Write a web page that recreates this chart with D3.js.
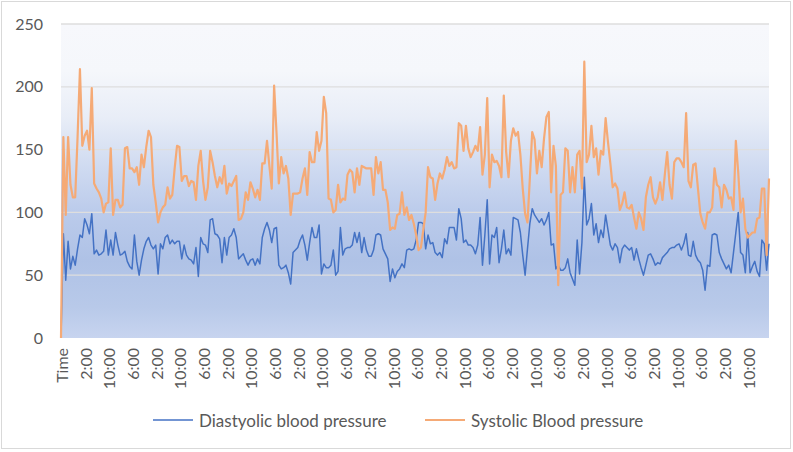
<!DOCTYPE html>
<html>
<head>
<meta charset="utf-8">
<script src="https://cdn.jsdelivr.net/npm/d3@7"></script>
<style>
  body { margin: 0; background: #fff; }
  text { font-family: Lato, "Open Sans", sans-serif; fill: #595959; }
</style>
</head>
<body>
<svg id="chart" width="793" height="452"></svg>
<script>
// Blood pressure readings, first category is the "Time" header row (plotted as 0)
const diastolic = [
  0, 83, 46, 77, 55, 65, 58, 71, 82, 80, 95, 90, 83, 99, 67, 70, 66, 67, 69, 86,
  66, 78, 66, 84, 74, 66, 67, 69, 61, 57, 55, 82, 61, 50, 62, 71, 77, 80, 74, 71,
  74, 51, 75, 71, 80, 82, 75, 78, 75, 77, 77,
  63, 74, 66, 63, 62, 59, 72, 49, 80, 75, 74, 68, 94, 95, 83, 82, 79, 60, 80, 66,
  80, 82, 87, 80, 63, 65, 67, 62, 58, 62, 63, 58, 63, 59, 80, 87, 92, 86, 76, 87,
  88, 58, 55, 56, 58, 52, 43, 68, 70, 72,
  78, 82, 74, 62, 76, 88, 80, 80, 90, 51, 59, 56, 56, 58, 70, 50, 53, 88, 66, 71,
  72, 72, 74, 84, 76, 84, 68, 80, 70, 65, 65, 70, 82, 83, 82, 71, 67, 63, 45, 55,
  48, 53, 55, 59, 56, 70, 71, 70, 71, 78,
  92, 92, 91, 71, 82, 75, 76, 68, 66, 68, 64, 79, 75, 88, 88, 88, 78, 103, 95, 76,
  78, 74, 74, 72, 67, 74, 96, 58, 82, 110, 59, 82, 80, 88, 60, 71, 86, 67, 71, 66,
  96, 95, 94, 84, 66, 50, 71, 91, 103, 98,
  95, 92, 95, 90, 94, 100, 74, 75, 55, 58, 54, 54, 56, 63, 52, 47, 42, 78, 51, 76,
  128, 90, 95, 107, 82, 91, 76, 86, 80, 98, 86, 74, 70, 75, 72, 60, 71, 74, 72, 70,
  72, 62, 71, 63, 56, 50, 58, 66, 67, 63,
  58, 60, 59, 64, 66, 68, 71, 72, 72, 74, 75, 70, 75, 83, 66, 65, 77, 66, 62, 60,
  54, 38, 58, 57, 82, 83, 82, 68, 63, 59, 55, 58, 52, 68, 84, 100, 68, 66, 52, 84,
  52, 57, 61, 53, 49, 78, 75, 54, 75
];

const systolic = [
  0, 160, 98, 160, 122, 112, 112, 160, 214, 153, 161, 165, 150, 199, 123, 119, 116, 111, 100, 107,
  108, 151, 98, 110, 110, 104, 106, 151, 152, 135, 135, 132, 136, 122, 146, 136, 152, 165, 160, 122,
  108, 92, 100, 104, 106, 120, 111, 114, 135, 153, 152,
  125, 129, 129, 121, 125, 124, 110, 137, 149, 125, 110, 120, 149, 140, 129, 120, 128, 123, 137, 115,
  123, 121, 125, 129, 94, 95, 100, 116, 110, 124, 119, 112, 118, 110, 139, 139, 157, 137, 119, 201,
  164, 123, 144, 131, 137, 127, 98, 115, 115, 115,
  116, 127, 135, 114, 148, 140, 140, 164, 149, 157, 192, 179, 111, 110, 100, 102, 122, 108, 111, 110,
  130, 134, 132, 116, 135, 122, 137, 136, 135, 135, 135, 114, 144, 131, 140, 118, 118, 108, 86, 88,
  87, 98, 99, 116, 98, 104, 94, 98, 91, 82,
  70, 72, 86, 100, 136, 128, 127, 110, 123, 131, 127, 134, 144, 137, 140, 135, 136, 171, 169, 149,
  169, 151, 144, 148, 153, 149, 168, 130, 146, 191, 120, 146, 140, 141, 137, 128, 193, 148, 128, 157,
  167, 161, 164, 146, 119, 99, 92, 127, 164, 158,
  131, 149, 136, 159, 176, 180, 116, 153, 137, 42, 114, 116, 151, 149, 116, 136, 116, 146, 149, 119,
  220, 140, 146, 169, 144, 151, 130, 149, 146, 175, 156, 139, 120, 123, 119, 102, 107, 116, 104, 103,
  106, 96, 87, 100, 95, 86, 112, 122, 128, 112,
  107, 112, 124, 110, 130, 148, 122, 111, 140, 143, 143, 140, 136, 179, 125, 120, 138, 139, 119, 99,
  92, 87, 100, 100, 104, 135, 122, 120, 104, 122, 118, 111, 112, 102, 157, 132, 100, 111, 87, 80,
  82, 84, 84, 95, 96, 119, 119, 66, 127
];

// one label every 10 readings
const tickLabels = [
  "Time", "2:00", "10:00", "6:00", "2:00", "10:00", "6:00", "2:00", "10:00", "6:00",
  "2:00", "10:00", "6:00", "2:00", "10:00", "6:00", "2:00", "10:00", "6:00", "2:00",
  "10:00", "6:00", "2:00", "10:00", "6:00", "2:00", "10:00", "6:00", "2:00", "10:00"
];
const labelStep = 10;
const yTicks = [0, 50, 100, 150, 200, 250];

const seriesNames = ["Diastyolic blood pressure", "Systolic Blood pressure"];
const seriesColors = ["#4472c4", "#f5aa76"];

const svg = d3.select("#chart");
const plot = { left: 61, right: 769, top: 24, bottom: 338 };

// Outer chart border
svg.append("rect")
  .attr("x", 1.5).attr("y", 1.5)
  .attr("width", 789).attr("height", 447)
  .attr("fill", "#fff")
  .attr("stroke", "#d9d9d9");

// Plot area gradient
const grad = svg.append("defs").append("linearGradient")
  .attr("id", "bg").attr("x1", 0).attr("y1", 0).attr("x2", 0).attr("y2", 1);
[
  [0, "#f7f8fc"], [0.15, "#f5f7fb"], [0.3, "#e8edf7"], [0.45, "#d0dbf1"],
  [0.6, "#bbcbeb"], [0.75, "#afc2e6"], [0.9, "#b8c9e9"], [1, "#c7d4ef"]
].forEach(s => grad.append("stop").attr("offset", s[0]).attr("stop-color", s[1]));

svg.append("rect")
  .attr("x", plot.left).attr("y", plot.top)
  .attr("width", plot.right - plot.left).attr("height", plot.bottom - plot.top)
  .attr("fill", "url(#bg)");

const x = d3.scaleLinear().domain([0, diastolic.length - 1]).range([plot.left, plot.right]);
const y = d3.scaleLinear().domain([0, 250]).range([plot.bottom, plot.top]);

// Gridlines
svg.append("g")
  .selectAll("line")
  .data(yTicks.slice(1))
  .enter()
  .append("line")
  .attr("x1", plot.left).attr("x2", plot.right)
  .attr("y1", d => y(d)).attr("y2", d => y(d))
  .attr("stroke", "#dedede")
  .attr("stroke-width", 1.3);

// Y axis
const yAxis = svg.append("g")
  .attr("transform", `translate(${plot.left},0)`)
  .call(d3.axisLeft(y).tickValues(yTicks).tickSize(0).tickPadding(18));
yAxis.select(".domain").remove();
yAxis.selectAll("text")
  .style("font-size", "16px")
  .style("font-family", "Lato, 'Open Sans', sans-serif")
  .attr("fill", "#595959");

// X axis, rotated labels
const xAxis = svg.append("g")
  .attr("transform", `translate(0,${plot.bottom})`)
  .call(d3.axisBottom(x)
    .tickValues(tickLabels.map((_, i) => i * labelStep))
    .tickFormat((d, i) => tickLabels[i])
    .tickSize(0));
xAxis.select(".domain").remove();
xAxis.selectAll("text")
  .style("font-size", "16px")
  .style("font-family", "Lato, 'Open Sans', sans-serif")
  .attr("fill", "#595959")
  .attr("text-anchor", "end")
  .attr("dy", null)
  .attr("y", 0)
  .attr("dominant-baseline", "central")
  .attr("transform", "translate(0,10) rotate(-90)");

// Lines
const line = d3.line()
  .x((d, i) => x(i))
  .y(d => y(d));

svg.append("path")
  .datum(diastolic)
  .attr("fill", "none")
  .attr("stroke", seriesColors[0])
  .attr("stroke-width", 1.5)
  .attr("stroke-linejoin", "round")
  .attr("d", line);

svg.append("path")
  .datum(systolic)
  .attr("fill", "none")
  .attr("stroke", seriesColors[1])
  .attr("stroke-width", 2.2)
  .attr("stroke-linejoin", "round")
  .attr("d", line);

// Legend
const legendX = [153, 425];
const legend = svg.append("g");
seriesNames.forEach((name, i) => {
  legend.append("line")
    .attr("x1", legendX[i]).attr("x2", legendX[i] + 40)
    .attr("y1", 420).attr("y2", 420)
    .attr("stroke", seriesColors[i])
    .attr("stroke-width", i === 0 ? 1.5 : 2.2);
  legend.append("text")
    .attr("x", legendX[i] + 46)
    .attr("y", 420)
    .attr("dominant-baseline", "central")
    .style("font-size", "17px")
    .text(name);
});
</script>
</body>
</html>
